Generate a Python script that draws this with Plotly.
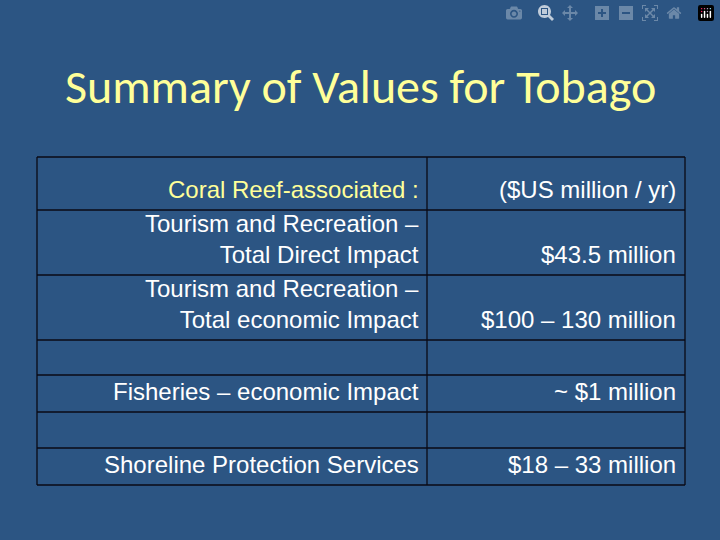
import plotly.graph_objects as go

title = "Summary of Values for Tobago"
left_labels = [
    "Coral Reef-associated :",
    "Tourism and Recreation –<br>Total Direct Impact",
    "Tourism and Recreation –<br>Total economic Impact",
    "",
    "Fisheries – economic Impact",
    "",
    "Shoreline Protection Services",
]
right_labels = [
    "($US million / yr)",
    "$43.5 million",
    "$100 – 130 million",
    "",
    "~ $1 million",
    "",
    "$18 – 33 million",
]
# row boundaries in pixels (layout only)
row_edges = [157, 210, 275, 340, 375, 412, 448, 485]
col_edges = [37, 427, 685]

W, H = 720, 540
BG = "#2C5583"


def px(x):
    return x / W


def py(y):
    return 1 - y / H


fig = go.Figure()
shapes = []
annotations = []

# cell borders
for y in row_edges:
    shapes.append(dict(type="line", xref="paper", yref="paper",
                       x0=px(col_edges[0]), x1=px(col_edges[-1]), y0=py(y), y1=py(y),
                       line=dict(color="#0a0a14", width=1.3)))
for x in col_edges:
    shapes.append(dict(type="line", xref="paper", yref="paper",
                       x0=px(x), x1=px(x), y0=py(row_edges[0]), y1=py(row_edges[-1]),
                       line=dict(color="#0a0a14", width=1.3)))

for i, (lt, rt) in enumerate(zip(left_labels, right_labels)):
    bottom = row_edges[i + 1]
    color = "#FFFF99" if i == 0 else "white"
    for text, xr, c in ((lt, col_edges[1] - 6, color), (rt, col_edges[2] - 7, "white")):
        if not text:
            continue
        annotations.append(dict(
            text=text, xref="paper", yref="paper", x=px(xr), y=py(bottom - 5),
            xanchor="right", yanchor="bottom", align="right", showarrow=False,
            font=dict(family="Liberation Sans, Arial", size=24, color=c),
        ))

annotations.append(dict(
    text=title, xref="paper", yref="paper", x=0.5, y=py(87),
    xanchor="center", yanchor="middle", showarrow=False,
    font=dict(family="Carlito, Lato, Open Sans", size=48, color="#FFFF99"),
))

fig.update_layout(
    width=W, height=H,
    margin=dict(l=0, r=0, t=0, b=0),
    paper_bgcolor=BG, plot_bgcolor=BG,
    xaxis=dict(visible=False), yaxis=dict(visible=False),
    shapes=shapes, annotations=annotations,
)

fig.write_html("out.html", post_script="document.body.style.margin='0';document.body.style.background='%s';" % BG)
